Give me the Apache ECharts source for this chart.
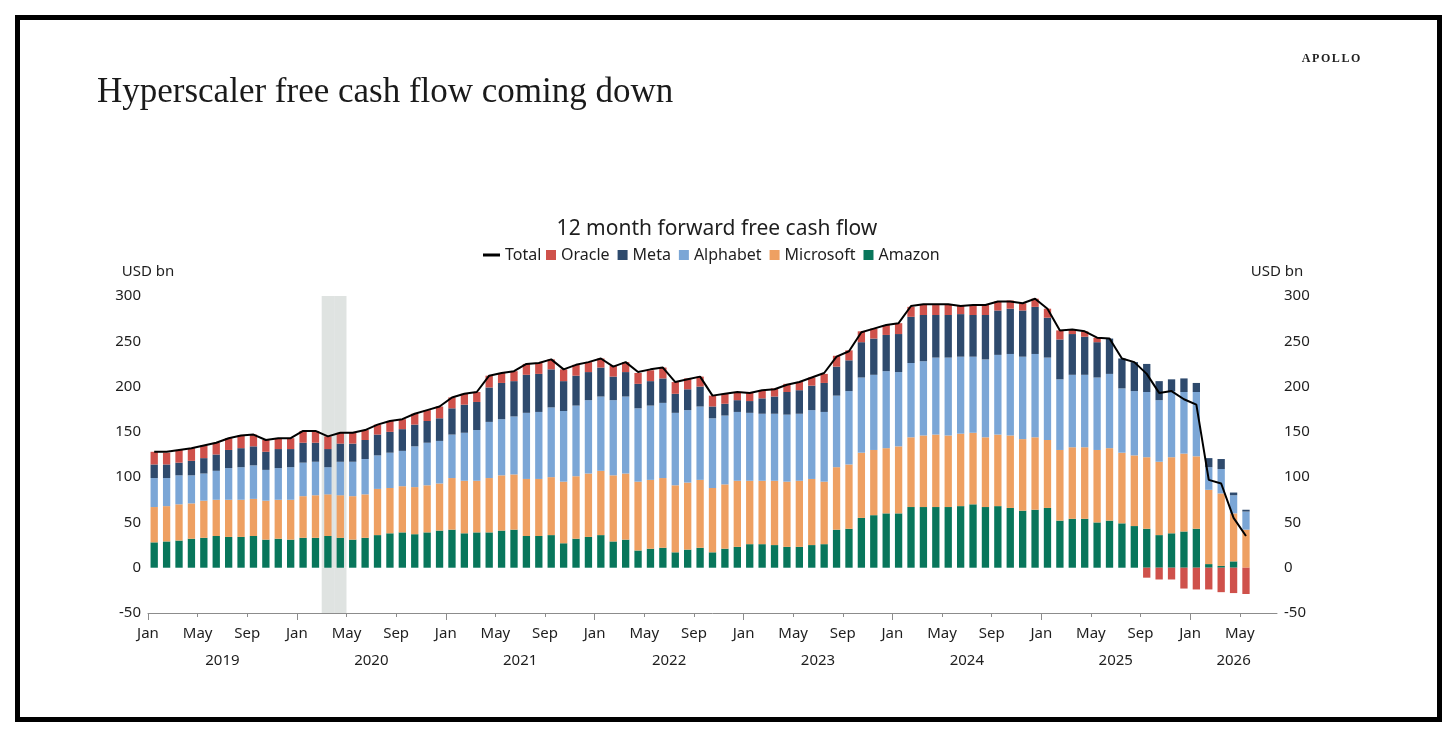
<!DOCTYPE html>
<html>
<head>
<meta charset="utf-8">
<title>Hyperscaler free cash flow coming down</title>
<script src="https://cdn.jsdelivr.net/npm/echarts@6/dist/echarts.min.js"></script>
<style>
  html, body { margin: 0; padding: 0; background: #fff; }
  #frame { position: absolute; left: 15px; top: 15px; width: 1427px; height: 707px; border: 5px solid #000; box-sizing: border-box; }
  #chart { position: absolute; left: 0; top: 0; width: 1456px; height: 734px; }
  #brand { position: absolute; right: 94px; top: 51px; font: 600 12px 'Liberation Serif', serif; letter-spacing: 1.6px; color: #222; }
</style>
</head>
<body>
<div id="frame"></div>
<div id="chart"></div>
<div id="brand">APOLLO</div>
<script>
// month axis: Jan 2019 .. Jul 2026, data runs to May 2026
const monthNames = ['Jan', 'Feb', 'Mar', 'Apr', 'May', 'Jun', 'Jul', 'Aug', 'Sep', 'Oct', 'Nov', 'Dec'];
const years = ['2019', '2020', '2021', '2022', '2023', '2024', '2025', '2026'];
const axisMonths = 91;
const recession = ['Mar 2020', 'Apr 2020'];
const yTicks = [-50, 300, 50]; // min, max, interval

// USD bn, 12 month forward free cash flow
const amazon = [28, 29, 30, 32, 33, 35, 34, 34, 35, 31, 32, 31, 33, 33, 35, 33, 31, 33, 36, 38, 39, 37, 39, 41,
  42, 38, 39, 39, 41, 42, 35, 35, 36, 27, 32, 34, 36, 29, 31, 19, 21, 22, 17, 20, 22, 17, 21, 23,
  26, 26, 25, 23, 23, 25, 26, 42, 43, 55, 58, 60, 60, 67, 67, 67, 67, 68, 70, 67, 68, 66, 63, 64,
  66, 52, 54, 54, 50, 52, 49, 46, 43, 36, 38, 40, 43, 4, 2, 7, 0];
const microsoft = [39, 39, 40, 39, 41, 40, 41, 41, 41, 43, 43, 44, 46, 47, 46, 47, 48, 48, 51, 50, 51, 52, 52, 52,
  57, 58, 57, 60, 61, 61, 63, 63, 64, 68, 69, 70, 71, 73, 73, 76, 76, 77, 74, 74, 75, 71, 71, 73,
  70, 70, 71, 72, 73, 73, 69, 69, 71, 72, 72, 72, 74, 77, 79, 80, 79, 80, 79, 77, 79, 80, 79, 80,
  75, 78, 79, 79, 80, 80, 78, 78, 79, 81, 84, 86, 80, 82, 80, 53, 42];
const alphabet = [32, 31, 32, 31, 30, 32, 35, 36, 37, 34, 35, 36, 37, 37, 30, 37, 38, 39, 37, 39, 39, 45, 47, 47,
  48, 53, 56, 62, 62, 64, 73, 74, 77, 78, 78, 81, 82, 83, 85, 81, 82, 83, 80, 80, 81, 77, 76, 76,
  75, 74, 74, 74, 74, 76, 77, 79, 81, 83, 83, 85, 82, 82, 82, 85, 86, 85, 84, 86, 88, 90, 91, 92,
  91, 78, 80, 80, 80, 82, 71, 71, 72, 68, 73, 68, 71, 25, 27, 20, 20];
const meta = [15, 15, 14, 16, 17, 18, 20, 21, 21, 20, 21, 20, 22, 21, 20, 20, 20, 21, 23, 23, 24, 24, 24, 25,
  29, 31, 31, 38, 40, 39, 42, 42, 42, 33, 33, 31, 32, 26, 27, 27, 27, 27, 21, 23, 22, 13, 13, 13,
  13, 17, 19, 25, 26, 27, 32, 32, 34, 39, 40, 40, 42, 51, 51, 47, 47, 47, 46, 49, 49, 50, 51, 52,
  44, 44, 45, 42, 39, 39, 33, 32, 31, 21, 13, 15, 10, 10, 11, 3, 2];
const oracle = [14, 13, 14, 14, 14, 13, 13, 14, 13, 13, 12, 12, 13, 13, 14, 12, 12, 11, 11, 12, 11, 12, 12, 13,
  12, 12, 11, 13, 11, 11, 12, 12, 11, 13, 12, 11, 10, 12, 11, 12, 12, 12, 13, 12, 11, 12, 11, 8,
  9, 9, 9, 9, 9, 9, 10, 12, 11, 12, 11, 11, 12, 11, 12, 11, 12, 9, 11, 11, 10, 9, 8, 9,
  10, 10, 5, 6, 5, 0, 0, 0, -11, -13, -13, -23, -24, -24, -27, -28, -29];
const total = [128, 128, 130, 132, 135, 138, 143, 146, 147, 141, 143, 143, 151, 151, 145, 149, 149, 152, 158, 162, 164, 170, 174, 178,
  188, 192, 194, 212, 215, 217, 225, 226, 230, 219, 224, 227, 231, 222, 227, 216, 219, 221, 205, 208, 211, 190, 192, 194,
  193, 196, 197, 202, 205, 210, 215, 233, 239, 260, 264, 268, 270, 289, 291, 291, 291, 289, 290, 290, 294, 294, 292, 297,
  286, 262, 263, 261, 254, 253, 231, 227, 214, 193, 195, 186, 180, 97, 93, 55, 35];

const colors = {
  Total: '#000000',
  Oracle: '#cf514b',
  Meta: '#2e4a6d',
  Alphabet: '#7ba6d6',
  Microsoft: '#eea062',
  Amazon: '#08765b',
  recession: '#dfe3e1'
};
const font = 'Noto Sans';
const ink = '#1e1e1e';

// category per month band
const categories = [];
for (let i = 0; i < axisMonths; i++) {
  categories.push(monthNames[i % 12] + ' ' + years[Math.floor(i / 12)]);
}
// month boundaries for the Jan/May/Sep labels
const boundaries = [];
for (let k = 0; k <= axisMonths; k++) boundaries.push(monthNames[k % 12]);
// half-month grid so year labels sit in the middle of their span
const halfSteps = new Array(axisMonths * 2 + 1).fill('');
years.forEach(function (y, n) {
  const s = n * 12;
  const e = Math.min(s + 12, axisMonths);
  halfSteps[s + e] = y;
});

function pad(arr) {
  return categories.map((c, i) => (i < arr.length ? arr[i] : '-'));
}

const myChart = echarts.init(document.getElementById('chart'), null, { renderer: 'canvas' });

const hiddenAxisLine = { show: false, onZero: false };

const barSeries = [
  ['Amazon', amazon],
  ['Microsoft', microsoft],
  ['Alphabet', alphabet],
  ['Meta', meta],
  ['Oracle', oracle]
].map(function ([name, values]) {
  return {
    name: name,
    type: 'bar',
    stack: 'fcf',
    barWidth: '59%',
    xAxisIndex: 0,
    yAxisIndex: 0,
    itemStyle: { color: colors[name] },
    data: pad(values)
  };
});

const option = {
  animation: false,
  backgroundColor: 'transparent',
  textStyle: { fontFamily: font },
  title: [
    {
      text: 'Hyperscaler free cash flow coming down',
      left: 92,
      top: 70,
      textStyle: { fontFamily: 'Liberation Serif', fontSize: 35, fontWeight: 'normal', color: '#1a1a1a' }
    },
    {
      text: '12 month forward free cash flow',
      left: 712,
      top: 214,
      textAlign: 'center',
      textStyle: { fontFamily: font, fontSize: 21, fontWeight: 'normal', color: ink }
    }
  ],
  legend: [
    {
      data: [{ name: 'Total', icon: 'rect', itemStyle: { color: colors.Total } }],
      left: 478,
      top: 242,
      itemWidth: 17,
      itemHeight: 3,
      textStyle: { fontFamily: font, fontSize: 16, color: ink }
    },
    {
      data: ['Oracle', 'Meta', 'Alphabet', 'Microsoft', 'Amazon'],
      icon: 'rect',
      left: 541,
      top: 242,
      itemWidth: 10,
      itemHeight: 10,
      itemGap: 8,
      textStyle: { fontFamily: font, fontSize: 16, color: ink }
    }
  ],
  grid: { left: 148, right: 179, top: 296, bottom: 121 },
  xAxis: [
    {
      type: 'category',
      data: categories,
      axisLine: { onZero: false, lineStyle: { color: '#8c8c8c', width: 1 } },
      axisTick: { show: false },
      axisLabel: { show: false }
    },
    {
      type: 'category',
      data: boundaries,
      boundaryGap: false,
      position: 'bottom',
      axisLine: hiddenAxisLine,
      axisTick: { show: true, interval: 3, length: 4, lineStyle: { color: '#8c8c8c' } },
      axisLabel: { interval: 3, margin: 13, fontSize: 15, color: ink, fontFamily: font }
    },
    {
      type: 'category',
      data: halfSteps,
      boundaryGap: false,
      position: 'bottom',
      axisLine: hiddenAxisLine,
      axisTick: { show: true, interval: (i) => i % 24 === 0, length: 7, lineStyle: { color: '#8c8c8c' } },
      axisLabel: { interval: (i, v) => v !== '', margin: 40, fontSize: 15, color: ink, fontFamily: font }
    },
    {
      type: 'category',
      data: categories,
      show: false
    }
  ],
  yAxis: [0, 1].map(function (n) {
    return {
      type: 'value',
      position: n === 0 ? 'left' : 'right',
      min: yTicks[0],
      max: yTicks[1],
      interval: yTicks[2],
      name: 'USD bn',
      nameLocation: 'end',
      nameGap: 17,
      nameTextStyle: { fontFamily: font, fontSize: 15, color: ink },
      axisLine: { show: false },
      axisTick: { show: false },
      splitLine: { show: false },
      axisLabel: { fontSize: 15, color: ink, margin: 7, fontFamily: font }
    };
  }),
  series: [
    {
      name: 'recession-top',
      type: 'bar',
      stack: 'rec',
      xAxisIndex: 3,
      yAxisIndex: 0,
      barWidth: '100%',
      silent: true,
      itemStyle: { color: colors.recession },
      data: categories.map((c) => (recession.includes(c) ? yTicks[1] : '-'))
    },
    {
      name: 'recession-bottom',
      type: 'bar',
      stack: 'rec',
      xAxisIndex: 3,
      yAxisIndex: 0,
      barWidth: '100%',
      silent: true,
      itemStyle: { color: colors.recession },
      data: categories.map((c) => (recession.includes(c) ? yTicks[0] : '-'))
    },
    ...barSeries,
    {
      name: 'Total',
      type: 'line',
      xAxisIndex: 0,
      yAxisIndex: 0,
      symbol: 'none',
      z: 5,
      lineStyle: { color: colors.Total, width: 2 },
      itemStyle: { color: colors.Total },
      data: pad(total)
    }
  ]
};

myChart.setOption(option);
</script>
</body>
</html>
